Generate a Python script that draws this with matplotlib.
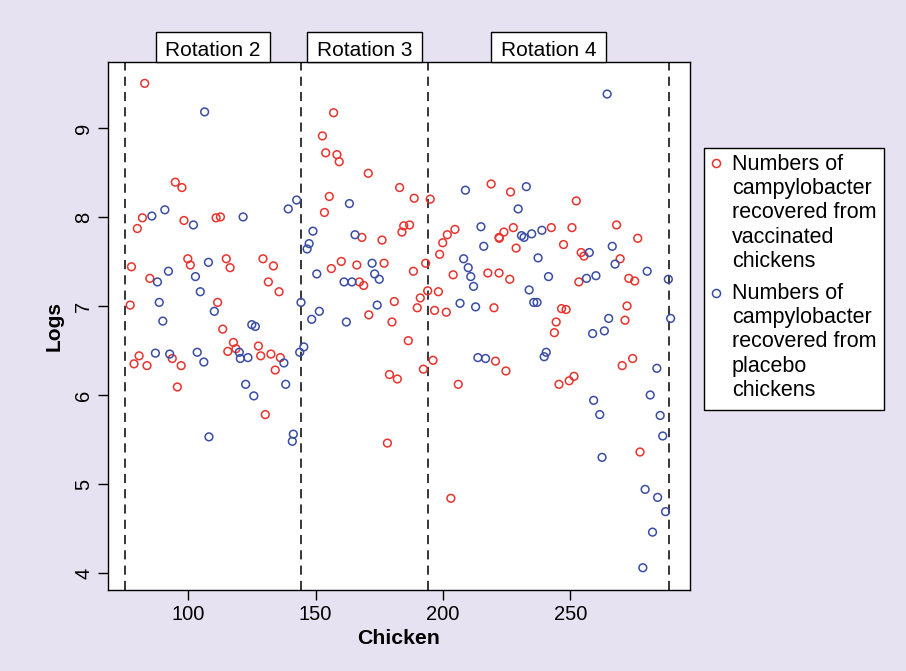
import matplotlib
matplotlib.use('Agg')
import matplotlib.pyplot as plt
from matplotlib.lines import Line2D
from matplotlib.patches import Rectangle

plt.rcParams['font.family'] = ['Liberation Sans', 'DejaVu Sans']

# vaccinated chickens (red)
vac_x = [83.0, 95.0, 97.6, 82.1, 80.1, 98.4, 99.9, 100.9, 77.8, 85.0, 77.3, 78.8, 80.8, 83.9,
         93.8, 97.3, 95.8, 111.0, 112.7, 115.0, 116.5, 129.4, 133.5, 131.5, 135.7, 111.6, 113.6,
         117.8, 118.8, 115.6, 127.6, 128.5, 132.5, 136.2, 134.2, 130.3,
         157.1, 152.7, 154.0, 158.4, 159.3, 170.7, 183.0, 155.4, 153.5, 168.2, 176.1, 160.1, 156.2,
         166.2, 176.9, 167.2, 168.9, 180.9, 170.9, 180.0, 179.0, 182.1, 178.2,
         218.9, 188.7, 195.0, 184.6, 186.9, 183.9, 204.7, 201.7, 199.9, 198.7, 222.0, 193.2, 188.4,
         204.0, 217.6, 222.0, 194.0, 198.2, 191.1, 189.9, 196.7, 201.3, 220.0, 186.4, 196.1, 192.3,
         220.6, 206.0, 203.1,
         226.5, 252.3, 223.9, 222.1, 227.6, 228.7, 242.5, 250.6, 247.3, 254.2, 255.3, 226.2, 253.3,
         246.5, 248.3, 244.4, 243.7, 224.7, 245.5, 249.5, 251.4,
         268.1, 276.4, 269.5, 272.9, 275.2, 272.2, 271.4, 274.4, 270.3, 277.3]
vac_y = [9.50, 8.39, 8.33, 7.99, 7.87, 7.96, 7.53, 7.46, 7.44, 7.31, 7.01, 6.35, 6.44, 6.33,
         6.41, 6.33, 6.09, 7.99, 8.00, 7.53, 7.43, 7.53, 7.45, 7.27, 7.16, 7.04, 6.74,
         6.59, 6.52, 6.49, 6.55, 6.44, 6.46, 6.42, 6.28, 5.78,
         9.17, 8.91, 8.72, 8.70, 8.62, 8.49, 8.33, 8.23, 8.05, 7.77, 7.74, 7.50, 7.42,
         7.46, 7.48, 7.27, 7.23, 7.05, 6.90, 6.82, 6.23, 6.18, 5.46,
         8.37, 8.21, 8.20, 7.90, 7.91, 7.83, 7.86, 7.80, 7.71, 7.58, 7.77, 7.48, 7.39,
         7.35, 7.37, 7.37, 7.17, 7.16, 7.09, 6.98, 6.95, 6.93, 6.98, 6.61, 6.39, 6.29,
         6.38, 6.12, 4.84,
         8.28, 8.18, 7.83, 7.76, 7.88, 7.65, 7.88, 7.88, 7.69, 7.60, 7.56, 7.30, 7.27,
         6.97, 6.96, 6.82, 6.70, 6.27, 6.12, 6.16, 6.21,
         7.91, 7.76, 7.53, 7.31, 7.28, 7.00, 6.84, 6.41, 6.33, 5.36]

# placebo chickens (blue)
pla_x = [106.5, 90.9, 85.8, 102.1, 108.0, 92.3, 88.0, 102.9, 104.8, 88.7, 90.1, 87.2, 92.8,
         103.6, 106.2, 108.2, 142.6, 139.3, 121.6, 110.3, 125.0, 126.4, 120.1, 120.5, 123.5,
         137.6, 122.6, 125.8, 138.3, 141.3, 140.9, 144.3, 143.8, 145.4,
         163.3, 149.0, 147.5, 146.7, 165.5, 172.2, 173.2, 175.0, 150.5, 161.2, 164.3, 151.5,
         148.5, 162.1, 174.2,
         208.8, 214.9, 216.0, 208.1, 209.9, 210.9, 212.0, 206.7, 212.8, 213.7, 216.7,
         232.7, 229.5, 230.8, 231.8, 234.8, 238.8, 237.3, 257.4, 241.4, 256.3, 260.0, 233.8,
         235.6, 236.9, 258.7, 239.7, 240.5, 259.1,
         264.4, 266.4, 267.5, 280.1, 288.4, 265.0, 289.3, 263.3, 283.9, 261.5, 281.3, 285.2,
         286.2, 262.4, 279.3, 284.2, 287.3, 282.2, 278.4]
pla_y = [9.18, 8.08, 8.01, 7.91, 7.49, 7.39, 7.27, 7.33, 7.16, 7.04, 6.83, 6.47, 6.46,
         6.48, 6.37, 5.53, 8.19, 8.09, 8.00, 6.94, 6.79, 6.77, 6.48, 6.41, 6.42,
         6.36, 6.12, 5.99, 6.12, 5.56, 5.48, 7.04, 6.48, 6.54,
         8.15, 7.84, 7.70, 7.64, 7.80, 7.48, 7.36, 7.30, 7.36, 7.27, 7.27, 6.94,
         6.85, 6.82, 7.01,
         8.30, 7.89, 7.67, 7.53, 7.43, 7.33, 7.22, 7.03, 6.99, 6.42, 6.41,
         8.34, 8.09, 7.79, 7.77, 7.81, 7.85, 7.54, 7.60, 7.33, 7.31, 7.34, 7.18,
         7.04, 7.04, 6.69, 6.43, 6.48, 5.94,
         9.38, 7.67, 7.47, 7.39, 7.30, 6.86, 6.86, 6.72, 6.30, 5.78, 6.00, 5.77,
         5.54, 5.30, 4.94, 4.85, 4.69, 4.46, 4.06]

boundaries = [75.3, 144.3, 194.1, 288.6]
rotation_labels = ['Rotation 2', 'Rotation 3', 'Rotation 4']
legend_labels = ['Numbers of\ncampylobacter\nrecovered from\nvaccinated\nchickens',
                 'Numbers of\ncampylobacter\nrecovered from\nplacebo\nchickens']

red = '#E8332E'
blue = '#3A4DA5'
W, H = 906, 671

fig = plt.figure(figsize=(W / 100, H / 100), dpi=100)
fig.patch.set_facecolor('#E6E2F1')

ax = fig.add_axes([108 / W, 1 - 590 / H, 582 / W, 528 / H])
ax.set_facecolor('white')

ax.scatter(vac_x, vac_y, s=31, facecolors='none', edgecolors=red, linewidths=1.1, zorder=3)
ax.scatter(pla_x, pla_y, s=31, facecolors='none', edgecolors=blue, linewidths=1.1, zorder=3)

for b in boundaries:
    ax.axvline(b, color='black', linestyle=(0, (6, 4)), linewidth=1.1, zorder=2)

# rotation header boxes sitting on top of the frame
box_h = 30 / 528
for i, lab in enumerate(rotation_labels):
    mid = (boundaries[i] + boundaries[i + 1]) / 2
    ax.add_patch(Rectangle((mid - 22.5, 1.0), 45, box_h, transform=ax.get_xaxis_transform(),
                           facecolor='white', edgecolor='black', linewidth=1.0,
                           clip_on=False, zorder=5))
    ax.text(mid, 1.0 + box_h / 2 - 3 / 528, lab, transform=ax.get_xaxis_transform(),
            ha='center', va='center', fontsize=15, zorder=6, clip_on=False)

ax.set_xlim(68.6, 296.9)
ax.set_ylim(3.81, 9.74)
ax.set_xticks([100, 150, 200, 250])
ax.set_yticks([4, 5, 6, 7, 8, 9])
ax.tick_params(axis='both', direction='out', length=7, width=1, labelsize=14.5)
for lbl in ax.get_yticklabels():
    lbl.set_rotation(90)
    lbl.set_va('center')
ax.set_xlabel('Chicken', fontsize=15.3, fontweight='bold', labelpad=4)
ax.set_ylabel('Logs', fontsize=15, fontweight='bold', labelpad=8)
for sp in ax.spines.values():
    sp.set_linewidth(1)

# legend drawn by hand so markers sit level with the first line of each entry
fig.patches.append(Rectangle((704 / W, 1 - 410 / H), 180 / W, 262 / H, transform=fig.transFigure,
                             facecolor='white', edgecolor='black', linewidth=1.0))
for lab, col, top, my in zip(legend_labels, [red, blue], [154, 283], [163, 293]):
    fig.add_artist(Line2D([716 / W], [1 - my / H], marker='o', linestyle='none',
                          markerfacecolor='none', markeredgecolor=col, markersize=5.8,
                          markeredgewidth=1.1, transform=fig.transFigure))
    fig.text(732 / W, 1 - top / H, lab, ha='left', va='top', fontsize=15.5, linespacing=1.2)

fig.savefig('out.png', dpi=100, facecolor=fig.get_facecolor())
